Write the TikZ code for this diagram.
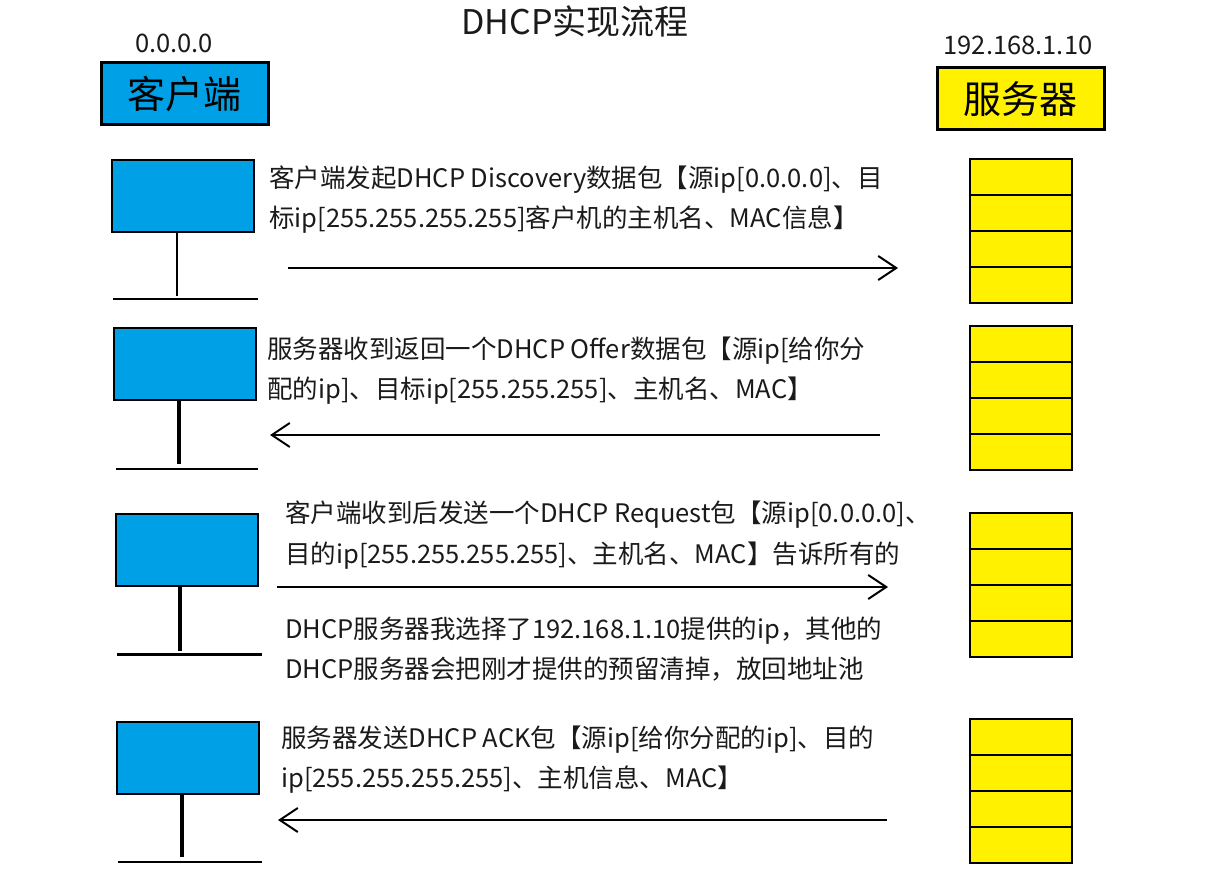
\documentclass[tikz,border=0pt]{standalone}
\usepackage{fontspec}
\setmainfont{Noto Sans CJK SC}
\newfontfamily\cjk{Noto Sans CJK SC}
\usetikzlibrary{arrows.meta}
\definecolor{cliblue}{HTML}{00A0E6}
\definecolor{srvyellow}{HTML}{FFF100}
\definecolor{txt}{HTML}{1A1A1A}
\begin{document}
\begin{tikzpicture}[x=1pt,y=-1pt,
  msg/.style={anchor=west,inner sep=0pt,text=txt,font=\cjk\fontsize{25.5}{30}\selectfont,text height=19pt,text depth=0pt},
  addr/.style={inner sep=0pt,text=txt,font=\cjk\fontsize{25.5}{30}\selectfont},
  header/.style={draw=black,line width=3pt,inner sep=0pt,font=\cjk\fontsize{38}{44}\selectfont},
  host/.style={draw=black,line width=2pt,fill=cliblue,inner sep=0pt,minimum width=142pt,minimum height=72pt},
  cell/.style={draw=black,line width=2pt,fill=srvyellow,inner sep=0pt,minimum width=102pt,minimum height=36pt},
  flow/.style={draw=black,line width=2pt,-{Straight Barb[length=18pt,width=24pt,line width=2pt]}},
  stem/.style={draw=black,line width=3.5pt},
  bus/.style={draw=black,line width=2pt}]
\useasboundingbox (0,0) rectangle (1212,890);

% title and address labels
\node[inner sep=0pt,text=txt,font=\cjk\fontsize{34}{40}\selectfont] (title) at (575,22) {DHCP实现流程};
\node[addr] (cip) at (174,43) {0.0.0.0};
\node[addr] (sip) at (1018,45) {192.168.1.10};

% the two parties
\node[header,fill=cliblue,minimum width=167pt,minimum height=62pt] (client) at (184.5,94) {客户端};
\node[header,fill=srvyellow,minimum width=167pt,minimum height=62pt] (server) at (1020.5,99) {服务器};

% client side: box, stem and bus for each step
\node[host] (c1) at (183,196) {};
\node[host] (c2) at (184.5,364) {};
\node[host] (c3) at (186.5,549.5) {};
\node[host] (c4) at (188,757.5) {};

\coordinate (c1f) at (177,296);
\coordinate (c2f) at (179,464);
\coordinate (c3f) at (180,651);
\coordinate (c4f) at (182,857);
\draw[draw=black,line width=2pt] (c1f |- c1.south) -- (c1f);
\draw[stem] (c2f |- c2.south) -- (c2f);
\draw[stem] (c3f |- c3.south) -- (c3f);
\draw[stem] (c4f |- c4.south) -- (c4f);

\coordinate (b1l) at (113,299); \coordinate (b1r) at (258,299);
\coordinate (b2l) at (116,469); \coordinate (b2r) at (258,469);
\coordinate (b3l) at (117,654); \coordinate (b3r) at (262,654);
\coordinate (b4l) at (118,862); \coordinate (b4r) at (262,862);
\draw[bus] (b1l) -- (b1r);
\draw[bus] (b2l) -- (b2r);
\draw[bus,line width=3pt] (b3l) -- (b3r);
\draw[bus] (b4l) -- (b4r);

% server side: stacks of four cells
\foreach \s/\top in {1/159, 2/326, 3/513, 4/719} {
  \foreach \k in {1,...,4} {
    \node[cell] (s\s-\k) at (1021,{\top+18+36*(\k-1)}) {};
  }
}

% message arrows
\coordinate (a1s) at (288,268); \coordinate (a1e) at (898,268);
\coordinate (a2s) at (880,435); \coordinate (a2e) at (270,435);
\coordinate (a3s) at (277,587); \coordinate (a3e) at (888,587);
\coordinate (a4s) at (887,820); \coordinate (a4e) at (278,820);
\draw[flow] (a1s) -- (a1e);
\draw[flow] (a2s) -- (a2e);
\draw[flow] (a3s) -- (a3e);
\draw[flow] (a4s) -- (a4e);

% message texts
\node[msg] (t1a) at (269,178) {客户端发起DHCP Discovery数据包【源ip[0.0.0.0]、目};
\node[msg] (t1b) at (269,218) {标ip[255.255.255.255]客户机的主机名、MAC信息】};
\node[msg] (t2a) at (267,349) {服务器收到返回一个DHCP Offer数据包【源ip[给你分};
\node[msg] (t2b) at (267,389) {配的ip]、目标ip[255.255.255]、主机名、MAC】};
\node[msg] (t3a) at (285,513) {客户端收到后发送一个DHCP Request包【源ip[0.0.0.0]、};
\node[msg] (t3b) at (285,554) {目的ip[255.255.255.255]、主机名、MAC】告诉所有的};
\node[msg] (t3c) at (285,629) {DHCP服务器我选择了192.168.1.10提供的ip，其他的};
\node[msg] (t3d) at (285,669) {DHCP服务器会把刚才提供的预留清掉，放回地址池};
\node[msg] (t4a) at (281,738) {服务器发送DHCP ACK包【源ip[给你分配的ip]、目的};
\node[msg] (t4b) at (281,778) {ip[255.255.255.255]、主机信息、MAC】};
\end{tikzpicture}
\end{document}
